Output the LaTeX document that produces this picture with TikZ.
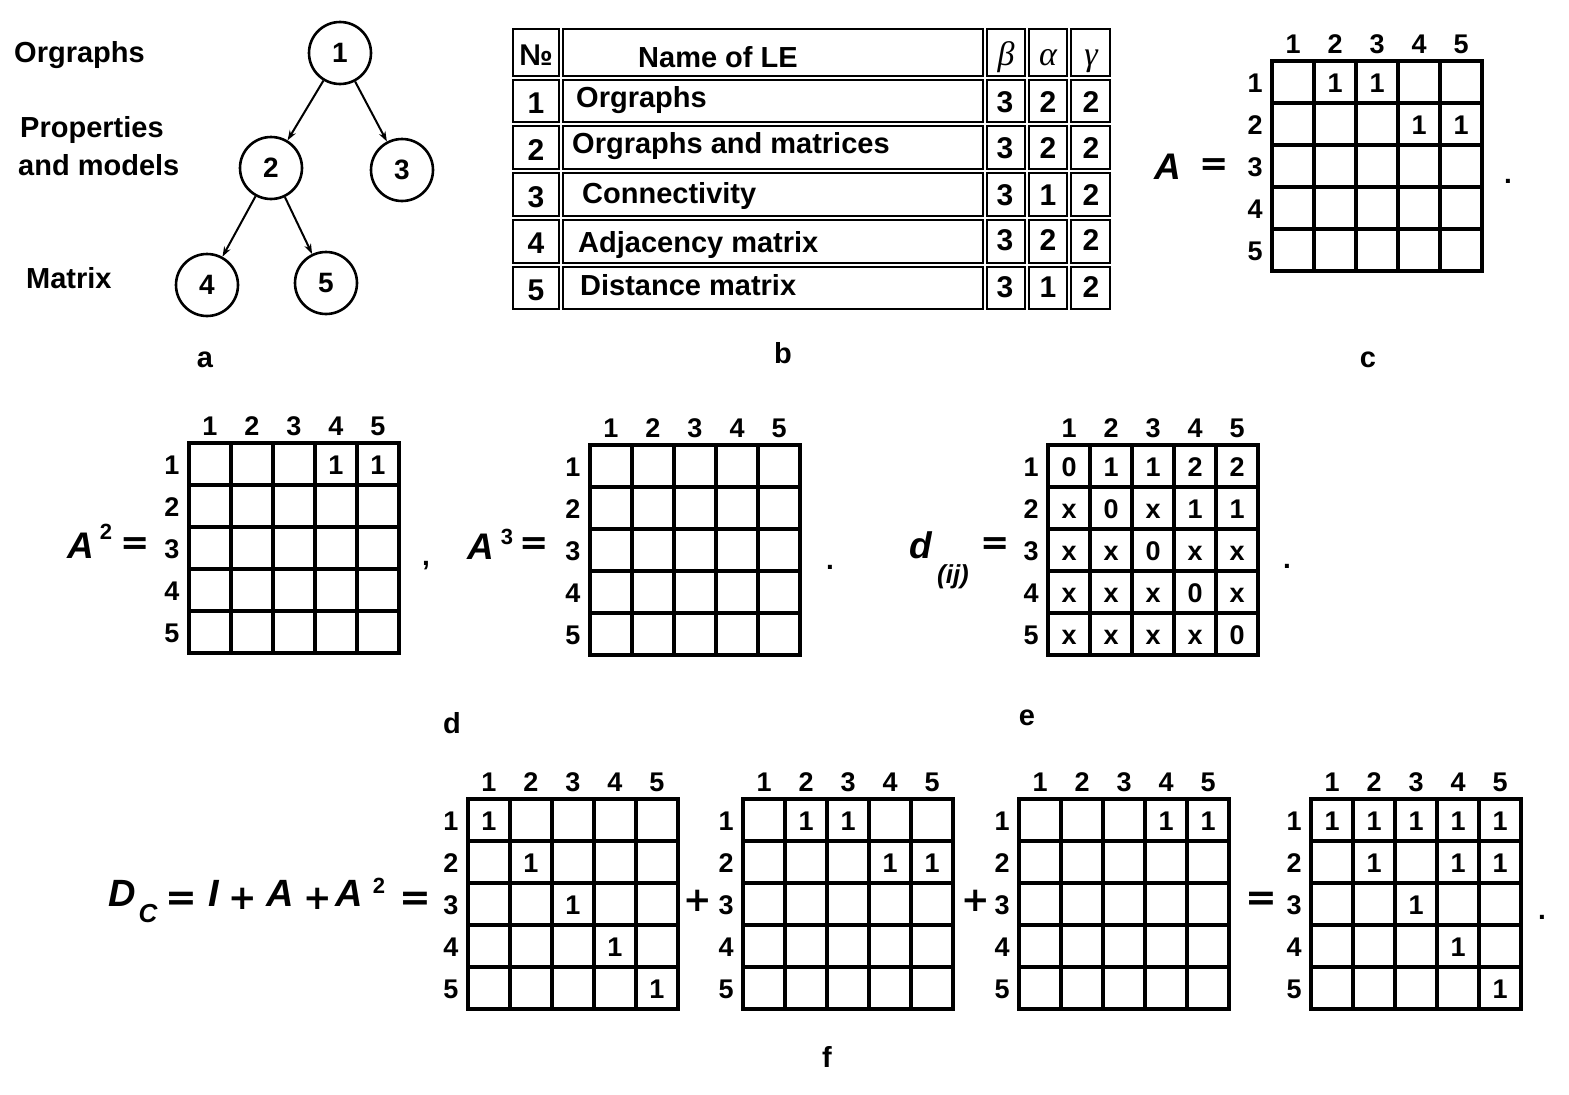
\documentclass[tikz,border=0pt]{standalone}
\usepackage{fontspec}
\setmainfont{Liberation Sans}
\newfontfamily\grkfont{Liberation Serif}
\newfontfamily\symfont{DejaVu Sans}
\usetikzlibrary{arrows.meta}
\newcommand{\myfs}[1]{\fontsize{#1pt}{#1pt}\selectfont}
\tikzset{
 lbl/.style={anchor=base west, inner sep=0pt, font=\myfs{29}\bfseries},
 num/.style={anchor=base, inner sep=0pt, font=\myfs{27}\bfseries},
 tnum/.style={anchor=base, inner sep=0pt, font=\myfs{30}\bfseries},
 panel/.style={anchor=base, inner sep=0pt, font=\myfs{29}\bfseries},
 gl/.style={line width=3.1pt, line cap=rect},
 vtx/.style={circle, draw, line width=2.6pt, minimum size=62pt, inner sep=0pt, font=\myfs{28}\bfseries},
 arr/.style={line width=2pt, -{Stealth[length=10pt,width=7pt]}},
 cellb/.style={line width=2pt},
 fvar/.style={anchor=base west, inner sep=0pt, font=\myfs{37}\bfseries\itshape},
 fbig/.style={anchor=base west, inner sep=0pt, font=\myfs{38}\bfseries\itshape},
 fsub/.style={anchor=center, inner sep=0pt, font=\myfs{26}\bfseries\itshape},
 fop/.style={anchor=center, inner sep=0pt, font=\myfs{35}\symfont\bfseries},
 fopb/.style={anchor=center, inner sep=0pt, font=\myfs{38}\symfont\bfseries},
 fplus/.style={anchor=center, inner sep=0pt, font=\myfs{34}\symfont\bfseries},
 sup/.style={anchor=center, inner sep=0pt, font=\myfs{22}\bfseries},
 grk/.style={anchor=base, inner sep=0pt, font=\myfs{34}\grkfont\itshape},
 punct/.style={anchor=base, inner sep=0pt, font=\myfs{28}\bfseries},
}
\newcommand{\mgrid}[3]{%
  \draw[gl] ({#2},{#3}) rectangle ({#2+210},{#3+210});
  \foreach \k in {1,...,4}{
    \draw[gl] ({#2+42*\k},{#3}) -- ({#2+42*\k},{#3+210});
    \draw[gl] ({#2},{#3+42*\k}) -- ({#2+210},{#3+42*\k});
  }
  \foreach \k in {1,...,5}{
    \node[num] (#1-c\k) at ({#2+42*\k-21},{#3-8}) {\k};
    \node[num] (#1-r\k) at ({#2-17},{#3+42*\k-21+10}) {\k};
  }
}
\newcommand{\mentries}[4]{%
  \foreach \r/\c/\v in {#4}{
    \node[num] (#1-\r-\c) at ({#2+42*\c-21},{#3+42*\r-21+10}) {\v};
  }
}
\begin{document}
\begin{tikzpicture}[x=1pt,y=-1pt]
\fill[white] (0,0) rectangle (1569,1095);
\useasboundingbox (0,0) rectangle (1569,1095);

% ---------- panel a ----------
\node[lbl] (ta1) at (14,62) {Orgraphs};
\node[lbl] (ta2) at (20,137) {Properties};
\node[lbl] (ta3) at (18,175) {and models};
\node[lbl] (ta4) at (26,288) {Matrix};
\node[vtx] (n1) at (340,53) {1};
\node[vtx] (n2) at (271,168) {2};
\node[vtx] (n3) at (402,170) {3};
\node[vtx] (n4) at (207,285) {4};
\node[vtx] (n5) at (326,283) {5};
\draw[arr] (n1) -- (n2);
\draw[arr] (n1) -- (n3);
\draw[arr] (n2) -- (n4);
\draw[arr] (n2) -- (n5);
\node[panel] (pa) at (205,367) {a};

% ---------- panel b ----------
\foreach \xa/\xb in {511/561,561/985,985/1027,1027/1069,1069/1112}{
  \foreach \ya/\yb in {27/78,78/124,124/171,171/218,218/265,265/311}{
    \draw[cellb] ({\xa+2},{\ya+2}) rectangle ({\xb-2},{\yb-2});
  }
}
\node[tnum] (h0) at (536,65) {№};
\node[lbl] (h1) at (638,67) {Name of LE};
\node[grk] (hb) at (1006,65) {β};
\node[grk] (ha) at (1048,65) {α};
\node[grk] (hg) at (1091,65) {γ};
\foreach \i/\yn/\yv/\xt/\yt/\t/\b/\a/\g in {
  1/113/112/576/107/Orgraphs/3/2/2,
  2/160/158/572/153/Orgraphs and matrices/3/2/2,
  3/207/205/582/203/Connectivity/3/1/2,
  4/253/250/578/252/Adjacency matrix/3/2/2,
  5/300/297/580/295/Distance matrix/3/1/2}{
  \node[tnum] (rn\i) at (536,\yn) {\i};
  \node[lbl] (rt\i) at (\xt,\yt) {\t};
  \node[tnum] (rb\i) at (1005,\yv) {\b};
  \node[tnum] (ra\i) at (1048,\yv) {\a};
  \node[tnum] (rg\i) at (1091,\yv) {\g};
}
\node[panel] (pb) at (783,363) {b};

% ---------- panel c ----------
\node[fvar] (cA) at (1154,179) {A};
\node[fop] (cEq) at (1214,167) {=};
\mgrid{mc}{1272}{61}
\mentries{mc}{1272}{61}{1/2/1,1/3/1,2/4/1,2/5/1}
\node[punct] (cdot) at (1508,183) {.};
\node[panel] (pc) at (1368,367) {c};

% ---------- panel d ----------
\node[fvar] (dA2) at (67,558) {A};
\node[sup] (dA2s) at (106,532) {2};
\node[fop] (dEq2) at (135,546) {=};
\mgrid{mb}{189}{443}
\mentries{mb}{189}{443}{1/4/1,1/5/1}
\node[punct] (dcomma) at (426,565) {,};

\node[fvar] (dA3) at (467,559) {A};
\node[sup] (dA3s) at (507,537) {3};
\node[fop] (dEq3) at (534,546) {=};
\mgrid{mt}{590}{445}
\node[punct] (ddot) at (830,569) {.};
\node[panel] (pd) at (452,733) {d};

% ---------- panel e ----------
\node[fvar] (ed) at (909,558) {d};
\node[fsub] (eds) at (953,577) {(ij)};
\node[fop] (eEq) at (995,546) {=};
\mgrid{md}{1048}{445}
\mentries{md}{1048}{445}{1/1/0,1/2/1,1/3/1,1/4/2,1/5/2,
 2/1/x,2/2/0,2/3/x,2/4/1,2/5/1,
 3/1/x,3/2/x,3/3/0,3/4/x,3/5/x,
 4/1/x,4/2/x,4/3/x,4/4/0,4/5/x,
 5/1/x,5/2/x,5/3/x,5/4/x,5/5/0}
\node[punct] (edot) at (1287,568) {.};
\node[panel] (pe) at (1027,725) {e};

% ---------- panel f ----------
\node[fbig] (fD) at (108,906) {D};
\node[fsub] (fC) at (148,914) {C};
\node[fopb] (fEq1) at (181,901) {=};
\node[fbig] (fI) at (208,906) {I};
\node[fplus] (fP1) at (243,899) {+};
\node[fbig] (fA1) at (266,906) {A};
\node[fplus] (fP2) at (318,899) {+};
\node[fbig] (fA2) at (335,906) {A};
\node[sup] (fA2s) at (379,886) {2};
\node[fopb] (fEq2) at (415,901) {=};
\mgrid{f1}{468}{799}
\mentries{f1}{468}{799}{1/1/1,2/2/1,3/3/1,4/4/1,5/5/1}
\node[fplus] (fP3) at (698,901) {+};
\mgrid{f2}{743}{799}
\mentries{f2}{743}{799}{1/2/1,1/3/1,2/4/1,2/5/1}
\node[fplus] (fP4) at (976,901) {+};
\mgrid{f3}{1019}{799}
\mentries{f3}{1019}{799}{1/4/1,1/5/1}
\node[fopb] (fEq3) at (1261,901) {=};
\mgrid{f4}{1311}{799}
\mentries{f4}{1311}{799}{1/1/1,1/2/1,1/3/1,1/4/1,1/5/1,2/2/1,2/4/1,2/5/1,3/3/1,4/4/1,5/5/1}
\node[punct] (fdot) at (1542,919) {.};
\node[panel] (pf) at (827,1067) {f};
\end{tikzpicture}
\end{document}
